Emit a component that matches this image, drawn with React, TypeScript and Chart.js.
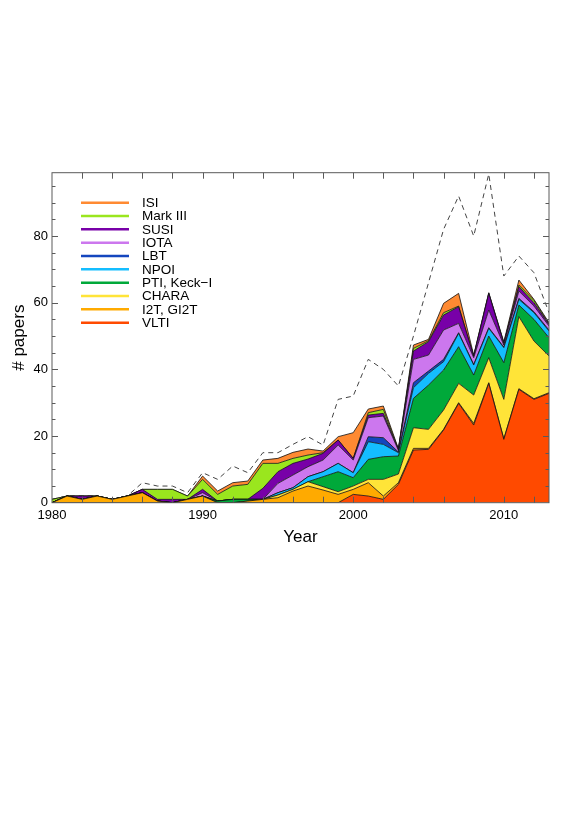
import React, { useEffect, useRef } from 'react';
import { Chart, registerables } from 'chart.js';

Chart.register(...registerables);

const years = [1980, 1981, 1982, 1983, 1984, 1985, 1986, 1987, 1988, 1989, 1990, 1991, 1992, 1993, 1994, 1995, 1996, 1997, 1998, 1999, 2000, 2001, 2002, 2003, 2004, 2005, 2006, 2007, 2008, 2009, 2010, 2011, 2012, 2013];

const VLTI = [0, 0, 0, 0, 0, 0, 0, 0, 0, 0, 0, 0, 0, 0, 0, 0, 0, 0, 0, 0, 2.5, 2.0, 1.0, 5.5, 15.8, 16.0, 21.8, 29.8, 23.3, 35.8, 19.0, 34.0, 31.0, 32.8];
const I2T = [0, 2, 1, 2, 1, 2, 3, 0.5, 0, 1, 2, 0, 0, 0.5, 1, 1.5, 3.5, 5.0, 3.8, 2.5, 1.5, 4.0, 1.0, 0.5, 0.5, 0.3, 0.2, 0.2, 0.5, 0.2, 0.2, 0.2, 0.2, 0.2];
const CHARA = [0, 0, 0, 0, 0, 0, 0, 0, 0, 0, 0, 0, 0, 0, 0, 0.8, 0.5, 1.3, 1.0, 0.8, 1.0, 1.0, 5.0, 2.6, 6.2, 5.7, 5.8, 5.8, 8.5, 7.5, 11.8, 21.6, 17.3, 11.0];
const PTI = [0, 0, 0, 0, 0, 0, 0, 0, 0, 0, 0, 0.5, 1, 0.5, 0, 0, 0, 0, 3.0, 6.0, 2.5, 6.0, 6.8, 5.4, 8.8, 13.3, 12.0, 11.0, 6.0, 6.5, 11.0, 3.5, 6.5, 5.5];
const NPOI = [0, 0, 0, 0, 0, 0, 0, 0, 0, 0, 0, 0, 0, 0, 0, 0.7, 0.5, 1.5, 1.5, 2.5, 1.5, 5.3, 3.7, 1.0, 3.2, 3.5, 2.5, 4.0, 3.0, 2.3, 4.5, 1.7, 2.0, 2.0];
const LBT = [0, 0, 0, 0, 0, 0, 0, 0, 0, 0, 0, 0, 0, 0, 0, 0, 0, 0, 0, 0, 0, 1.5, 2.0, 0.2, 1.5, 0.7, 0.7, 0.2, 0.2, 0.2, 0.2, 0.3, 0.3, 0.3];
const IOTA = [0, 0, 0, 0, 0, 0, 0, 0, 0, 0, 1, 0, 0, 0, 0, 2.8, 3.8, 3.0, 3.5, 5.5, 3.8, 5.7, 6.5, 0.5, 7.0, 4.8, 8.8, 2.8, 2.0, 5.3, 0.6, 2.2, 1.7, 1.2];
const SUSI = [0, 0, 1, 0, 0, 0, 1, 0.5, 1, 0, 1, 0, 0, 0, 3.3, 3.5, 3.5, 2.3, 2.0, 1.5, 0.5, 0.8, 0.8, 0.3, 2.5, 4.0, 4.5, 5.0, 0.5, 5.0, 0.5, 1.3, 1.0, 0.5];
const MARK3 = [1, 0, 0, 0, 0, 0, 0, 3, 3, 1, 3, 2, 4, 4.5, 7.5, 2.5, 1.5, 1.2, 0.2, 0, 0, 0.7, 1.2, 0, 0.8, 0.3, 0.7, 0.2, 0, 0, 0.2, 0.5, 0.7, 0.2];
const ISI = [0, 0, 0, 0, 0, 0, 0, 0, 0, 0, 1, 1, 1, 1, 1, 1.5, 1.8, 1.8, 0.5, 1.0, 7.7, 1.1, 1.0, 0.2, 1.0, 0.4, 2.8, 3.8, 0.3, 0.2, 0.2, 1.5, 0.3, 0.3];
const TOTAL = [1, 2, 2, 2, 1, 2, 6, 5, 5, 3, 9, 7, 11, 9, 15, 15, 17.5, 19.8, 17.3, 31, 32, 43, 40, 35, 50, 66, 82, 92, 80, 98.6, 68, 74, 69, 57];

const xTickLabels = [1980, 1990, 2000, 2010];
const yTickLabels = [0, 20, 40, 60, 80];
const xMinorTicks = [1982, 1984, 1986, 1988, 1990, 1992, 1994, 1996, 1998, 2000, 2002, 2004, 2006, 2008, 2010, 2012];
const yMinorTicks = [5, 10, 15, 20, 25, 30, 35, 40, 45, 50, 55, 60, 65, 70, 75, 80, 85, 90, 95];

// bottom to top
const seriesNames = ['VLTI', 'I2T, GI2T', 'CHARA', 'PTI, Keck\u2212I', 'NPOI', 'LBT', 'IOTA', 'SUSI', 'Mark III', 'ISI'];
const seriesValues = [VLTI, I2T, CHARA, PTI, NPOI, LBT, IOTA, SUSI, MARK3, ISI];
const seriesColors = ['#FF4A00', '#FFAA00', '#FFE438', '#00A93A', '#14BDFF', '#1446BE', '#CC77EE', '#7800A8', '#9AE61E', '#FF8A32'];

const FONT = '"Liberation Sans", Arial, Helvetica, sans-serif';

const framePlugin = {
  id: 'frameAndLegend',
  afterDraw(chart: any) {
    const { ctx, chartArea: a, scales } = chart;
    const xs = scales.x;
    const ys = scales.y;
    ctx.save();
    ctx.strokeStyle = '#5a5a5a';
    ctx.lineWidth = 1;
    ctx.strokeRect(a.left, a.top, a.right - a.left, a.bottom - a.top);
    ctx.beginPath();
    for (const yr of xMinorTicks) {
      const px = Math.round(xs.getPixelForValue(yr)) + 0.5;
      ctx.moveTo(px, a.bottom);
      ctx.lineTo(px, a.bottom - 6);
      ctx.moveTo(px, a.top);
      ctx.lineTo(px, a.top + 6);
    }
    for (const v of yMinorTicks) {
      const py = Math.round(ys.getPixelForValue(v)) + 0.5;
      const len = v % 20 === 0 ? 6 : 3.5;
      ctx.moveTo(a.left, py);
      ctx.lineTo(a.left + len, py);
      ctx.moveTo(a.right, py);
      ctx.lineTo(a.right - len, py);
    }
    ctx.stroke();

    // axis titles
    ctx.fillStyle = '#000';
    ctx.font = `17px ${FONT}`;
    ctx.textAlign = 'center';
    ctx.textBaseline = 'middle';
    ctx.fillText('Year', (a.left + a.right) / 2, a.bottom + 35);
    ctx.save();
    ctx.translate(a.left - 33, (a.top + a.bottom) / 2);
    ctx.rotate(-Math.PI / 2);
    ctx.fillText('# papers', 0, 0);
    ctx.restore();

    // legend (top to bottom)
    ctx.font = `13.5px ${FONT}`;
    ctx.textAlign = 'left';
    ctx.lineWidth = 2.5;
    const n = seriesNames.length;
    for (let k = 0; k < n; k++) {
      const i = n - 1 - k;
      const y = a.top + 30 + k * 13.33;
      ctx.strokeStyle = seriesColors[i];
      ctx.beginPath();
      ctx.moveTo(a.left + 29, y);
      ctx.lineTo(a.left + 77, y);
      ctx.stroke();
      ctx.fillStyle = '#000';
      ctx.fillText(seriesNames[i], a.left + 90, y + 0.5);
    }
    ctx.restore();
  },
};

export default function App() {
  const ref = useRef<HTMLCanvasElement | null>(null);

  useEffect(() => {
    if (!ref.current) return;
    const datasets: any[] = seriesValues.map((vals, i) => ({
      label: seriesNames[i],
      data: years.map((yr, j) => ({ x: yr, y: vals[j] })),
      stack: 'inst',
      fill: i === 0 ? 'origin' : '-1',
      backgroundColor: seriesColors[i],
      borderColor: '#111',
      borderWidth: 0.8,
      pointRadius: 0,
      tension: 0,
    }));
    datasets.push({
      label: 'total',
      data: years.map((yr, j) => ({ x: yr, y: TOTAL[j] })),
      stack: 'total',
      fill: false,
      borderColor: '#444',
      borderWidth: 1,
      borderDash: [5, 4],
      pointRadius: 0,
      tension: 0,
    });

    const chart = new Chart(ref.current, {
      type: 'line',
      data: { datasets },
      plugins: [framePlugin],
      options: {
        responsive: false,
        animation: false,
        events: [],
        layout: { padding: { left: 0, right: 32, top: 172.7, bottom: 290.3 } },
        plugins: { legend: { display: false }, tooltip: { enabled: false }, title: { display: false } },
        scales: {
          x: {
            type: 'linear',
            min: 1980,
            max: 2013,
            grid: { display: false, drawTicks: false, tickLength: 0 },
            border: { display: false },
            afterBuildTicks: (scale: any) => {
              scale.ticks = xTickLabels.map((v) => ({ value: v }));
            },
            afterFit: (scale: any) => {
              scale.height = 30;
            },
            ticks: {
              color: '#000',
              font: { family: FONT, size: 13 },
              padding: 5,
              maxRotation: 0,
              autoSkip: false,
              callback: (v: any) => String(v),
            },
          },
          y: {
            type: 'linear',
            stacked: true,
            min: 0,
            max: 99,
            grid: { display: false, drawTicks: false, tickLength: 0 },
            border: { display: false },
            afterBuildTicks: (scale: any) => {
              scale.ticks = yTickLabels.map((v) => ({ value: v }));
            },
            afterFit: (scale: any) => {
              scale.width = 52;
            },
            ticks: {
              color: '#000',
              font: { family: FONT, size: 13 },
              padding: 4,
              autoSkip: false,
              callback: (v: any) => String(v),
            },
          },
        },
      },
    });
    return () => chart.destroy();
  }, []);

  return (
    <canvas
      ref={ref}
      width={581}
      height={823}
      style={{ position: 'absolute', left: 0, top: 0, width: 581, height: 823 }}
    />
  );
}
